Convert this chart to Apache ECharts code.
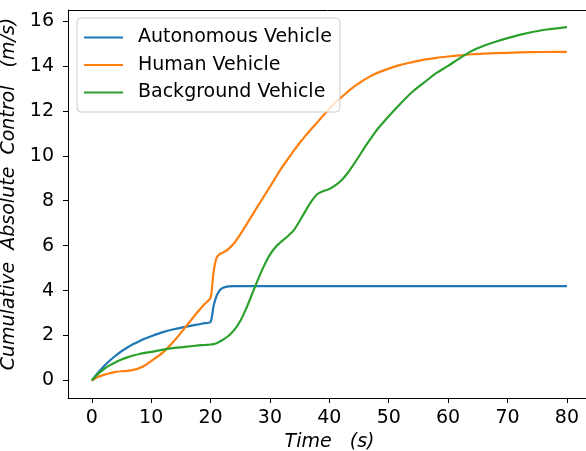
<!DOCTYPE html>
<html>
<head>
<meta charset="utf-8">
<script src="https://cdn.jsdelivr.net/npm/echarts@6/dist/echarts.min.js"></script>
<style>html,body{margin:0;padding:0;background:#fff;overflow:hidden;}#c{width:586px;height:451px;}</style>
</head>
<body>
<div id="c"></div>
<script>
const seriesNames = ['Autonomous Vehicle', 'Human Vehicle', 'Background Vehicle'];
const time = [0,1,2,3,4,5,6,7,8,9,10,12,14,16,18,19,20,20.5,21,21.5,22,23,24,25,26,27,28,29,30,31,32,33,34,35,36,37,38,39,40,41,42,43,44,45,46,47,48,50,52,54,56,58,60,62,64,66,68,72,76,80];
const autonomous = [0,0.32,0.62,0.88,1.1,1.3,1.47,1.62,1.75,1.87,1.97,2.15,2.29,2.4,2.5,2.55,2.6,3.3,3.75,4.0,4.12,4.19,4.2,4.2,4.2,4.2,4.2,4.2,4.2,4.2,4.2,4.2,4.2,4.2,4.2,4.2,4.2,4.2,4.2,4.2,4.2,4.2,4.2,4.2,4.2,4.2,4.2,4.2,4.2,4.2,4.2,4.2,4.2,4.2,4.2,4.2,4.2,4.2,4.2,4.2];
const human = [0,0.15,0.25,0.32,0.38,0.41,0.43,0.47,0.55,0.68,0.86,1.25,1.8,2.45,3.1,3.4,3.68,4.8,5.45,5.62,5.68,5.85,6.12,6.5,6.92,7.35,7.78,8.2,8.62,9.05,9.47,9.85,10.22,10.57,10.9,11.2,11.5,11.8,12.1,12.36,12.6,12.83,13.05,13.23,13.4,13.55,13.68,13.88,14.05,14.17,14.28,14.36,14.42,14.47,14.52,14.55,14.57,14.6,14.62,14.63];
const background = [0,0.28,0.5,0.67,0.81,0.93,1.03,1.11,1.18,1.23,1.27,1.37,1.45,1.51,1.56,1.58,1.6,1.62,1.66,1.72,1.8,1.98,2.25,2.65,3.2,3.85,4.5,5.1,5.6,5.95,6.2,6.42,6.68,7.1,7.55,7.98,8.3,8.43,8.52,8.68,8.9,9.2,9.58,9.98,10.4,10.78,11.15,11.76,12.33,12.85,13.27,13.68,14.0,14.35,14.67,14.9,15.08,15.38,15.6,15.73];
const xTicks = [0,10,20,30,40,50,60,70,80];
const yTicks = [0,2,4,6,8,10,12,14,16];
const xRange = [-4, 89.95];
const yRange = [-0.78, 16.49];
const colors = ['#1f77b4', '#ff7f0e', '#2ca02c'];

const font = 'DejaVu Sans';
const chart = echarts.init(document.getElementById('c'), null, {renderer: 'canvas'});
const pairs = arr => time.map((t, i) => [t, arr[i]]);
const mk = (name, arr, color) => ({
  name, type: 'line', data: pairs(arr), showSymbol: false, symbol: 'none',
  smooth: 0.25,
  lineStyle: {color, width: 2.2}, itemStyle: {color}, animation: false
});
const series = [
  mk(seriesNames[0], autonomous, colors[0]),
  mk(seriesNames[1], human, colors[1]),
  mk(seriesNames[2], background, colors[2])
];
// top spine
series[0].markLine = {
  silent: true, symbol: ['none', 'none'], label: {show: false},
  lineStyle: {color: '#000', width: 1, type: 'solid'},
  data: [{yAxis: yRange[1]}], animation: false
};
chart.setOption({
  animation: false,
  grid: {left: 68, top: 10, right: -40, bottom: 53, outerBoundsMode: 'none', containLabel: false, show: false},
  legend: {
    orient: 'vertical', left: 77, top: 18,
    padding: [10, 8, 10, 7], itemWidth: 39, itemHeight: 2, itemGap: 8.5, icon: 'rect',
    backgroundColor: 'rgba(255,255,255,0.8)', borderColor: '#cccccc', borderWidth: 1, borderRadius: 4,
    textStyle: {fontFamily: font, fontSize: 19, color: '#000', padding: [0, 0, 0, 10]},
    data: seriesNames
  },
  xAxis: {
    type: 'value', min: xRange[0], max: xRange[1],
    name: 'Time   (s)', nameLocation: 'middle', nameGap: 33,
    nameTextStyle: {fontFamily: font, fontSize: 19, fontStyle: 'italic', color: '#000', padding: [0, 35, 0, 0]},
    axisLine: {show: true, onZero: false, lineStyle: {color: '#000', width: 1}},
    axisTick: {show: true, length: 5, customValues: xTicks, lineStyle: {color: '#000', width: 1}},
    axisLabel: {customValues: xTicks, margin: 11, fontFamily: font, fontSize: 19, color: '#000'},
    splitLine: {show: false}
  },
  yAxis: {
    type: 'value', min: yRange[0], max: yRange[1],
    name: 'Cumulative  Absolute  Control   (m/s)', nameLocation: 'middle', nameGap: 40,
    nameTextStyle: {fontFamily: font, fontSize: 19, fontStyle: 'italic', color: '#000', padding: [0, 0, 0, 20]},
    axisLine: {show: true, onZero: false, lineStyle: {color: '#000', width: 1}},
    axisTick: {show: true, length: 5, customValues: yTicks, lineStyle: {color: '#000', width: 1}},
    axisLabel: {customValues: yTicks, margin: 14, fontFamily: font, fontSize: 19, color: '#000'},
    splitLine: {show: false}
  },
  series
});
</script>
</body>
</html>
